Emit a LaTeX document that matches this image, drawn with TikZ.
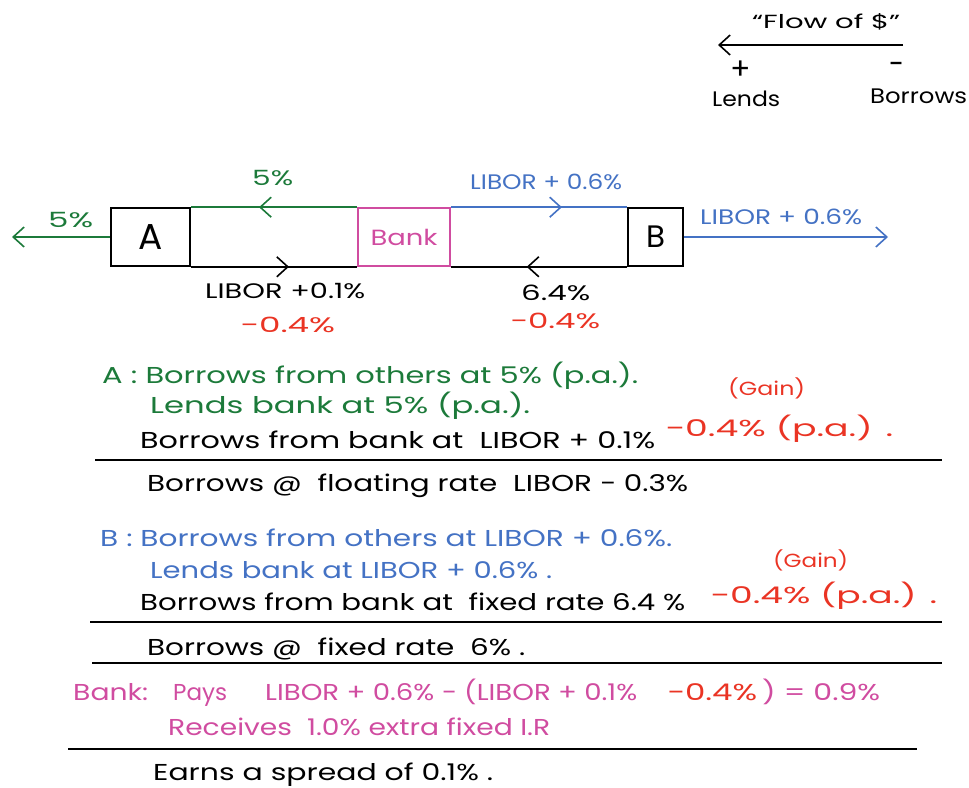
\documentclass[tikz,border=0pt]{standalone}
\usepackage{fontspec}
\setmainfont{Poppins}
\usetikzlibrary{arrows.meta,decorations.markings}
\definecolor{cgreen}{RGB}{28,122,58}
\definecolor{cblue}{RGB}{68,114,196}
\definecolor{cmag}{RGB}{208,76,160}
\definecolor{cred}{RGB}{234,52,36}
\newcommand\fw[2]{\resizebox{#1pt}{\height}{#2}}
\begin{document}
\begin{tikzpicture}[x=1pt,y=-1pt,
  txt/.style={inner sep=0pt, anchor=base west, font=\fontsize{23}{27}\selectfont},
  sm/.style={inner sep=0pt, anchor=base west, font=\fontsize{19}{23}\selectfont},
  lab/.style={inner sep=0pt, anchor=base west, font=\fontsize{21}{25}\selectfont},
  box/.style={draw, line width=1.6pt, minimum height=58pt, inner sep=0pt, font=\fontsize{36}{40}\selectfont},
  flow/.style={line width=1.6pt},
  >={Straight Barb[length=11pt,width=20pt,line width=1.6pt]},
  midarrow/.style={postaction={decorate}, decoration={markings, mark=at position #1 with {\arrow{>}}}},
  hrule/.style={line width=1.8pt}
]
\useasboundingbox (0,0) rectangle (969,787);

% legend
\coordinate (fl1) at (903,45);
\coordinate (fl2) at (718,45);
\draw[flow,->] (fl1) -- (fl2);
\node[sm] (flowtxt) at (752,29) {\fw{148}{“Flow of \$”}};
\node[inner sep=0pt, font=\fontsize{30}{34}\selectfont] (plus) at (741,70) {+};
\node[inner sep=0pt, font=\fontsize{30}{34}\selectfont] (minus) at (896,68) {\fw{14}{–}};
\node[lab] (lends) at (712,106) {\fw{68}{Lends}};
\node[lab] (borrows) at (870,103) {\fw{97}{Borrows}};

% boxes
\node[box, minimum width=79pt] (A) at (150.5,237) {A};
\node[box, minimum width=92pt, draw=cmag, text=cmag] (Bank) at (404,237) {\fontsize{22}{26}\selectfont\fw{67}{Bank}};
\node[box, minimum width=55pt] (B) at (655.5,237) {\fontsize{31}{35}\selectfont B};

% connectors
\draw[flow, cgreen, midarrow=0.59] (Bank.north west) -- (A.north east);
\draw[flow, midarrow=0.59] (A.south east) -- (Bank.south west);
\draw[flow, cblue, midarrow=0.63] (Bank.north east) -- (B.north west);
\draw[flow, midarrow=0.57] (B.south west) -- (Bank.south east);
\coordinate (leftend) at (12,237);
\coordinate (rightend) at (888,237);
\draw[flow, cgreen, ->] (A.west) -- (leftend);
\draw[flow, cblue, ->] (B.east) -- (rightend);

% diagram labels
\node[lab, text=cgreen] (g5top) at (252,185) {\fw{41}{5\%}};
\node[lab, text=cgreen] (g5left) at (48,227) {\fw{45}{5\%}};
\node[lab, text=cblue] (btop) at (470,189) {\fw{152}{LIBOR + 0.6\%}};
\node[lab, text=cblue] (bright) at (700,224) {\fw{162}{LIBOR + 0.6\%}};
\node[lab] (lib01) at (205,298) {\fw{160}{LIBOR +0.1\%}};
\node[lab, text=cred] (rA) at (240,332) {\fw{95}{−0.4\%}};
\node[lab] (r64) at (521,300) {\fw{69}{6.4\%}};
\node[lab, text=cred] (rB) at (510,328) {\fw{90}{−0.4\%}};

% A block
\node[txt, text=cgreen] (a1) at (102,383) {\fw{536}{A : Borrows from others at 5\% (p.a.).}};
\node[txt, text=cgreen] (a2) at (150,413) {\fw{380}{Lends bank at 5\% (p.a.).}};
\node[txt] (a3) at (140,448) {\fw{515}{Borrows from bank at\ \ LIBOR + 0.1\%}};
\node[txt, text=cred] (a3r) at (665,436) {\fw{228}{−0.4\% (p.a.) .}};
\node[sm, text=cred] (again) at (728,395) {\fw{77}{(Gain)}};
\coordinate (r1a) at (95,460);
\coordinate (r1b) at (942,460);
\draw[hrule] (r1a) -- (r1b);
\node[txt] (a4) at (147,491) {\fw{541}{Borrows @\ \ floating rate\ \ LIBOR − 0.3\%}};

% B block
\node[txt, text=cblue] (b1) at (100,546) {\fw{572}{B : Borrows from others at LIBOR + 0.6\%.}};
\node[txt, text=cblue] (b2) at (150,578) {\fw{402}{Lends bank at LIBOR + 0.6\% .}};
\node[txt] (b3) at (140,610) {\fw{545}{Borrows from bank at\ \ fixed rate 6.4 \%}};
\node[txt, text=cred] (b3r) at (710,603) {\fw{227}{−0.4\% (p.a.) .}};
\node[sm, text=cred] (bgain) at (773,567) {\fw{75}{(Gain)}};
\coordinate (r2a) at (90,622);
\coordinate (r2b) at (942,622);
\draw[hrule] (r2a) -- (r2b);
\node[txt] (b4) at (147,655) {\fw{378}{Borrows @\ \ fixed rate\ \ 6\% .}};
\coordinate (r3a) at (92,663);
\coordinate (r3b) at (942,663);
\draw[hrule] (r3a) -- (r3b);

% Bank block
\node[txt, text=cmag] (k1) at (73,700) {\fw{75}{Bank:}};
\node[txt, text=cmag] (k2) at (173,700) {\fw{54}{Pays}};
\node[txt, text=cmag] (k3) at (265,700) {\fw{372}{LIBOR + 0.6\% − (LIBOR + 0.1\%}};
\node[txt, text=cred] (k4) at (667,700) {\fw{90}{−0.4\%}};
\node[txt, text=cmag] (k5) at (762,700) {\fw{118}{) = 0.9\%}};
\node[txt, text=cmag] (k6) at (168,735) {\fw{382}{Receives\ \ 1.0\% extra fixed I.R}};
\coordinate (r4a) at (68,749);
\coordinate (r4b) at (917,749);
\draw[hrule] (r4a) -- (r4b);
\node[txt] (k7) at (153,780) {\fw{340}{Earns a spread of 0.1\% .}};
\end{tikzpicture}
\end{document}
